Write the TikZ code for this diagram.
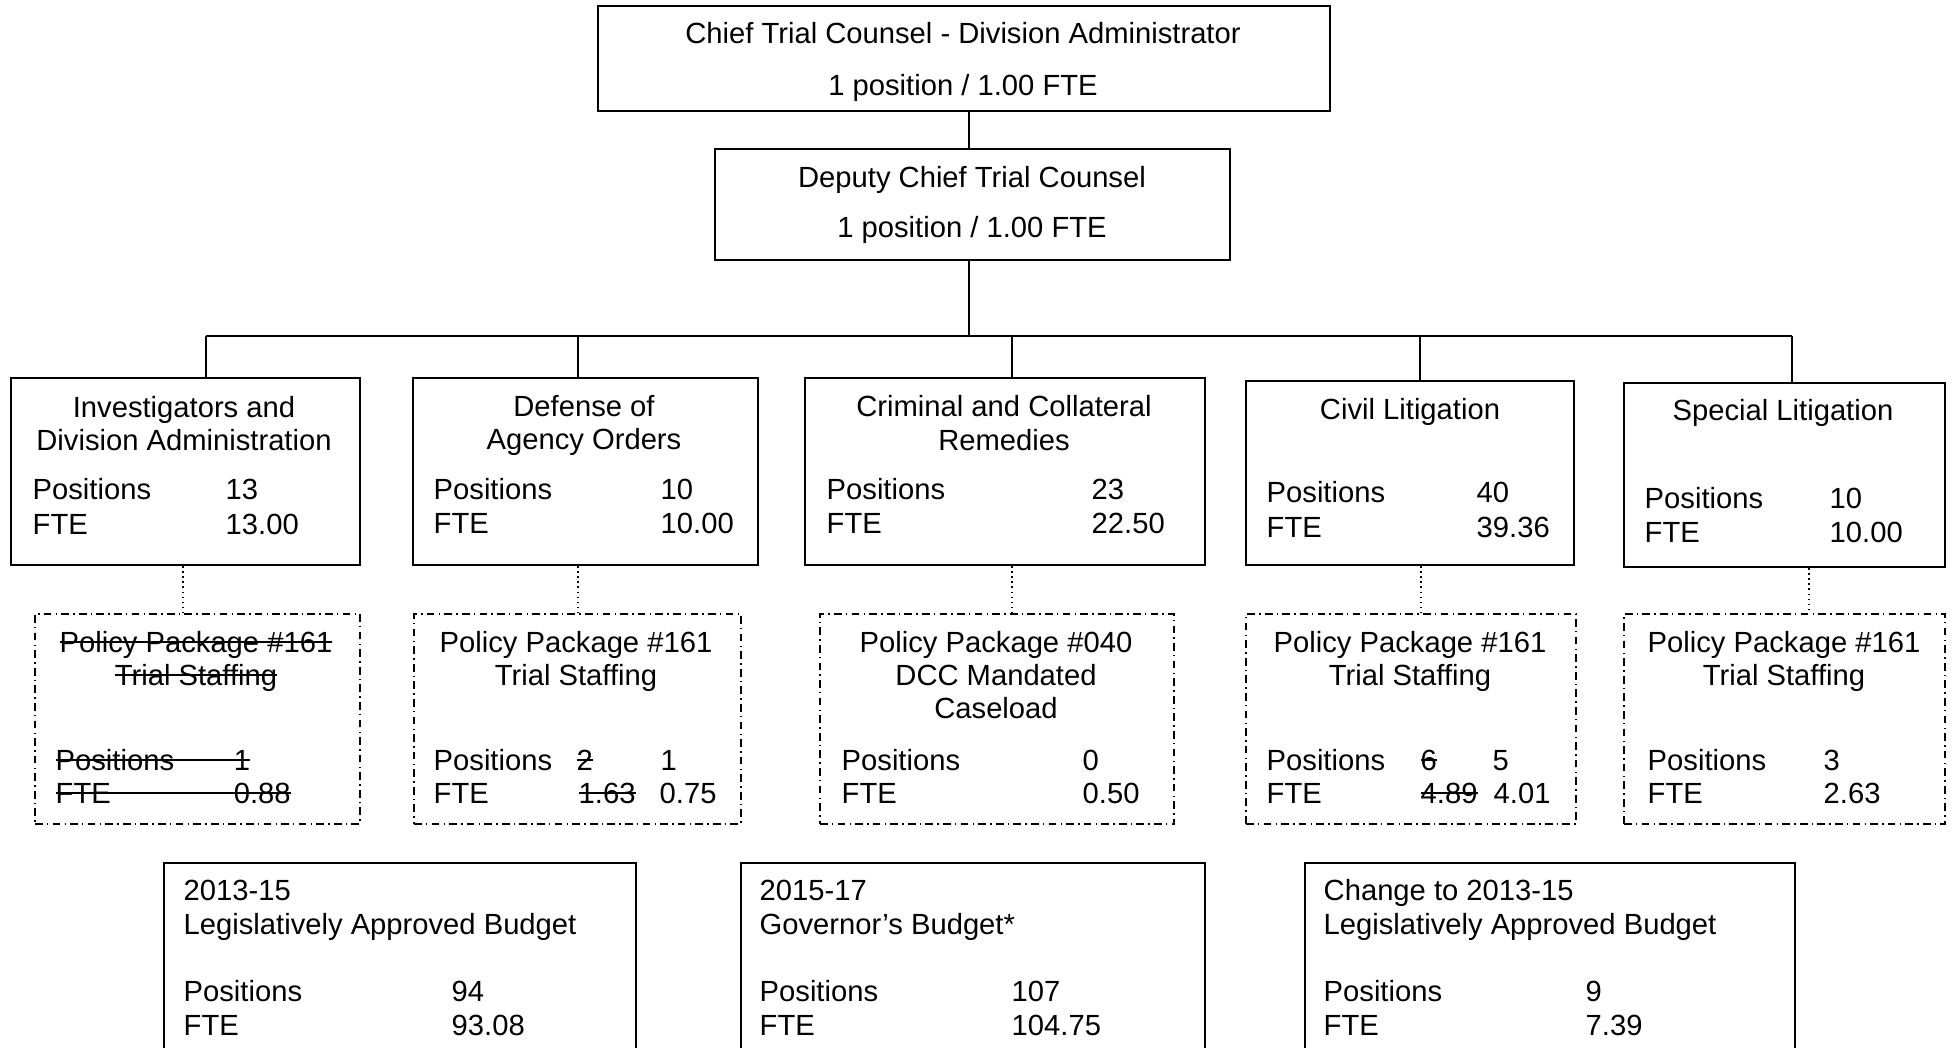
\documentclass[tikz,border=0pt]{standalone}
\usepackage{fontspec}
\setmainfont{Liberation Sans}
\usepackage{tikz}
\usetikzlibrary{positioning,calc}

% struck-out text
\newcommand{\struck}[1]{\setbox0\hbox{#1}\rlap{\rule[0.3em]{\wd0}{0.55pt}}\box0}

\begin{document}
\begin{tikzpicture}[
    x=0.01cm, y=-0.01cm,
    font=\fontsize{8.3}{9.6}\selectfont,
    box/.style={draw, line width=0.55pt, inner sep=0pt, anchor=north west},
    ppbox/.style={box, dash pattern=on 2.2pt off 1.2pt on 0.4pt off 1.2pt},
    ttl/.style={inner sep=0pt, anchor=base},
    txt/.style={inner sep=0pt, anchor=base west},
    link/.style={line width=0.45pt},
    dots/.style={line width=0.45pt, densely dotted}
]
\useasboundingbox (0,0) rectangle (1952,1047);

% Chief and deputy
\node[box, minimum width=7.32cm, minimum height=1.05cm] (top) at (597,5) {};
\node[ttl] (topT1) at (963,43) {Chief Trial Counsel - Division Administrator};
\node[ttl] (topT2) at (963,95) {1 position / 1.00 FTE};
\node[box, minimum width=5.15cm, minimum height=1.11cm] (dep) at (714,148) {};
\node[ttl] (depT1) at (972,187) {Deputy Chief Trial Counsel};
\node[ttl] (depT2) at (972,237) {1 position / 1.00 FTE};

% Sections
\node[box, minimum width=3.49cm, minimum height=1.87cm] (inv) at (10,377) {};
\node[ttl] (invT1) at (184,417) {Investigators and};
\node[ttl] (invT2) at (184,450) {Division Administration};
\node[txt] (invP) at (32,499) {Positions};
\node[txt] (invF) at (32,534) {FTE};
\node[txt] (invPv) at (225,499) {13};
\node[txt] (invFv) at (225,534) {13.00};

\node[box, minimum width=3.45cm, minimum height=1.87cm] (def) at (412,377) {};
\node[ttl] (defT1) at (584,416) {Defense of};
\node[ttl] (defT2) at (584,449) {Agency Orders};
\node[txt] (defP) at (433,499) {Positions};
\node[txt] (defF) at (433,533) {FTE};
\node[txt] (defPv) at (660,499) {10};
\node[txt] (defFv) at (660,533) {10.00};

\node[box, minimum width=4.00cm, minimum height=1.87cm] (crim) at (804,377) {};
\node[ttl] (crimT1) at (1004,416) {Criminal and Collateral};
\node[ttl] (crimT2) at (1004,450) {Remedies};
\node[txt] (crimP) at (826,499) {Positions};
\node[txt] (crimF) at (826,533) {FTE};
\node[txt] (crimPv) at (1091,499) {23};
\node[txt] (crimFv) at (1091,533) {22.50};

\node[box, minimum width=3.28cm, minimum height=1.84cm] (civ) at (1245,380) {};
\node[ttl] (civT1) at (1410,419) {Civil Litigation};
\node[txt] (civP) at (1266,502) {Positions};
\node[txt] (civF) at (1266,537) {FTE};
\node[txt] (civPv) at (1476,502) {40};
\node[txt] (civFv) at (1476,537) {39.36};

\node[box, minimum width=3.21cm, minimum height=1.84cm] (spec) at (1623,382) {};
\node[ttl] (specT1) at (1783,420) {Special Litigation};
\node[txt] (specP) at (1644,508) {Positions};
\node[txt] (specF) at (1644,542) {FTE};
\node[txt] (specPv) at (1829,508) {10};
\node[txt] (specFv) at (1829,542) {10.00};

% Policy packages
\node[ppbox, minimum width=3.25cm, minimum height=2.10cm] (ppinv) at (34,613) {};
\node[ttl] (ppinvT1) at (196,652) {\struck{Policy Package \#161}};
\node[ttl] (ppinvT2) at (196,685) {\struck{Trial Staffing}};
\node[txt] (ppinvP) at (55,770) {\struck{\makebox[1.78cm][l]{Positions}1}};
\node[txt] (ppinvF) at (55,803) {\struck{\makebox[1.78cm][l]{FTE}0.88}};

\node[ppbox, minimum width=3.27cm, minimum height=2.10cm] (ppdef) at (413,613) {};
\node[ttl] (ppdefT1) at (576,652) {Policy Package \#161};
\node[ttl] (ppdefT2) at (576,685) {Trial Staffing};
\node[txt] (ppdefP) at (433,770) {Positions};
\node[txt] (ppdefF) at (433,803) {FTE};
\node[txt] (ppdefPo) at (576,770) {\struck{2}};
\node[txt] (ppdefFo) at (578,803) {\struck{1.63}};
\node[txt] (ppdefPv) at (660,770) {1};
\node[txt] (ppdefFv) at (659,803) {0.75};

\node[ppbox, minimum width=3.54cm, minimum height=2.10cm] (ppcrim) at (819,613) {};
\node[ttl] (ppcrimT1) at (996,652) {Policy Package \#040};
\node[ttl] (ppcrimT2) at (996,685) {DCC Mandated};
\node[ttl] (ppcrimT3) at (996,718) {Caseload};
\node[txt] (ppcrimP) at (841,770) {Positions};
\node[txt] (ppcrimF) at (841,803) {FTE};
\node[txt] (ppcrimPv) at (1082,770) {0};
\node[txt] (ppcrimFv) at (1082,803) {0.50};

\node[ppbox, minimum width=3.30cm, minimum height=2.10cm] (ppciv) at (1245,613) {};
\node[ttl] (ppcivT1) at (1410,652) {Policy Package \#161};
\node[ttl] (ppcivT2) at (1410,685) {Trial Staffing};
\node[txt] (ppcivP) at (1266,770) {Positions};
\node[txt] (ppcivF) at (1266,803) {FTE};
\node[txt] (ppcivPo) at (1420,770) {\struck{6}};
\node[txt] (ppcivFo) at (1420,803) {\struck{4.89}};
\node[txt] (ppcivPv) at (1492,770) {5};
\node[txt] (ppcivFv) at (1493,803) {4.01};

\node[ppbox, minimum width=3.21cm, minimum height=2.10cm] (ppspec) at (1623,613) {};
\node[ttl] (ppspecT1) at (1784,652) {Policy Package \#161};
\node[ttl] (ppspecT2) at (1784,685) {Trial Staffing};
\node[txt] (ppspecP) at (1647,770) {Positions};
\node[txt] (ppspecF) at (1647,803) {FTE};
\node[txt] (ppspecPv) at (1823,770) {3};
\node[txt] (ppspecFv) at (1823,803) {2.63};

% Budget totals
\node[box, minimum width=4.72cm, minimum height=2.0cm] (lab) at (163,862) {};
\node[txt] (labT1) at (183,900) {2013-15};
\node[txt] (labT2) at (183,934) {Legislatively Approved Budget};
\node[txt] (labP) at (183,1001) {Positions};
\node[txt] (labF) at (183,1035) {FTE};
\node[txt] (labPv) at (451,1001) {94};
\node[txt] (labFv) at (451,1035) {93.08};

\node[box, minimum width=4.64cm, minimum height=2.0cm] (gb) at (740,862) {};
\node[txt] (gbT1) at (759,900) {2015-17};
\node[txt] (gbT2) at (759,934) {Governor’s Budget*};
\node[txt] (gbP) at (759,1001) {Positions};
\node[txt] (gbF) at (759,1035) {FTE};
\node[txt] (gbPv) at (1011,1001) {107};
\node[txt] (gbFv) at (1011,1035) {104.75};

\node[box, minimum width=4.90cm, minimum height=2.0cm] (chg) at (1304,862) {};
\node[txt] (chgT1) at (1323,900) {Change to 2013-15};
\node[txt] (chgT2) at (1323,934) {Legislatively Approved Budget};
\node[txt] (chgP) at (1323,1001) {Positions};
\node[txt] (chgF) at (1323,1035) {FTE};
\node[txt] (chgPv) at (1585,1001) {9};
\node[txt] (chgFv) at (1585,1035) {7.39};

% Reporting lines
\coordinate (bus) at (969,336);
\coordinate (bInv) at (206,336);
\coordinate (bDef) at (578,336);
\coordinate (bCrim) at (1012,336);
\coordinate (bCiv) at (1420,336);
\coordinate (bSpec) at (1792,336);
\draw[link] (bus |- top.south) -- (bus |- dep.north);
\draw[link] (bus |- dep.south) -- (bus);
\draw[link] (bInv) -- (bSpec);
\foreach \b/\n in {bInv/inv, bDef/def, bCrim/crim, bCiv/civ, bSpec/spec}
    \draw[link] (\b) -- (\b |- \n.north);

% Package links
\coordinate (dInv) at (183,600);
\coordinate (dDef) at (578,600);
\coordinate (dCrim) at (1012,600);
\coordinate (dCiv) at (1421,600);
\coordinate (dSpec) at (1809,600);
\foreach \d/\n in {dInv/inv, dDef/def, dCrim/crim, dCiv/civ, dSpec/spec}
    \draw[dots] (\d |- \n.south) -- (\d |- pp\n.north);
\end{tikzpicture}
\end{document}
